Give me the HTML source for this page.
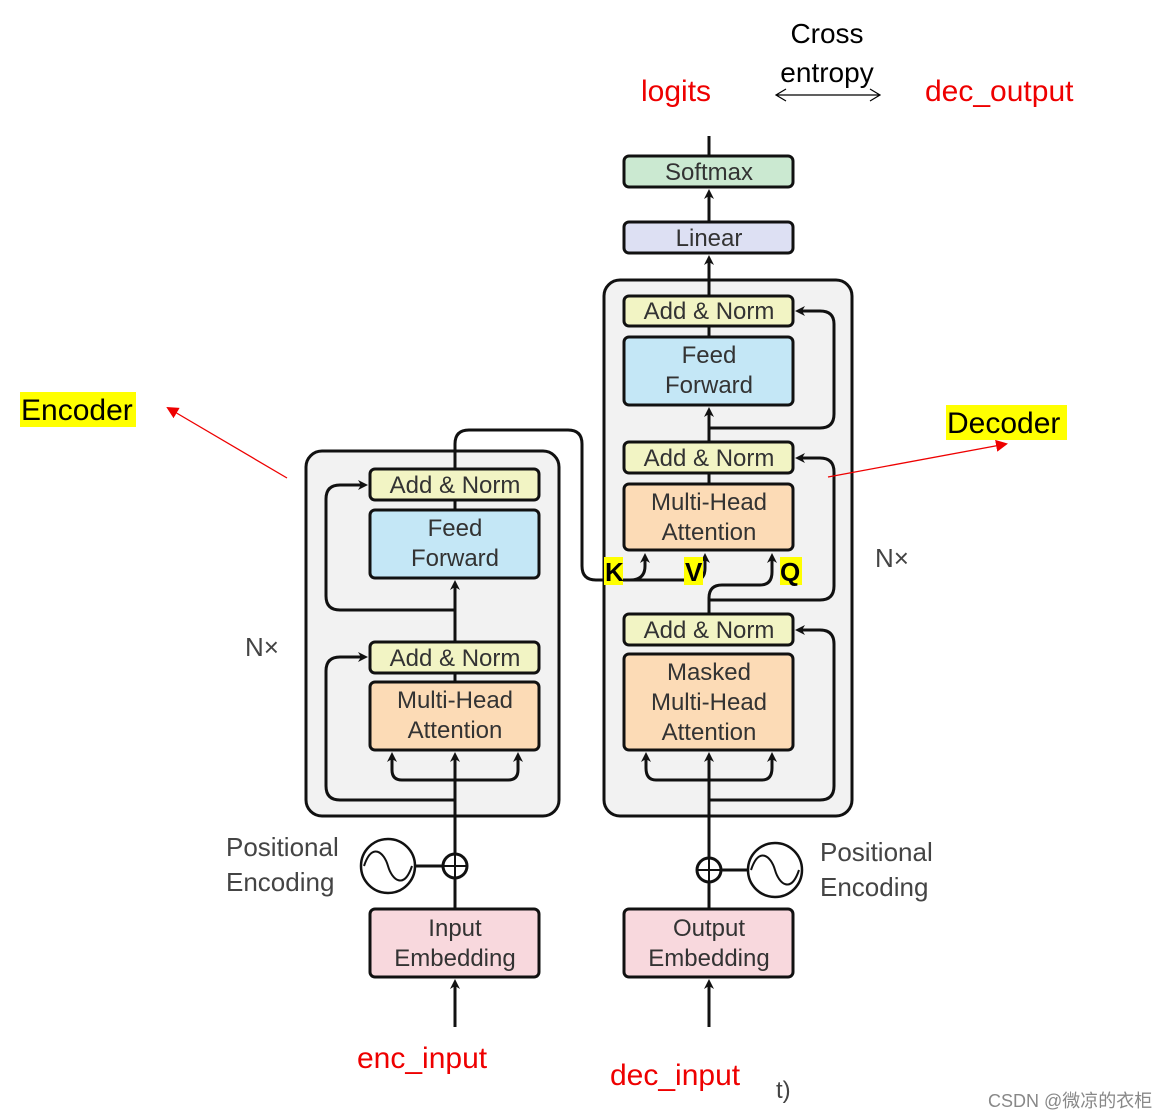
<!DOCTYPE html>
<html><head><meta charset="utf-8"><style>
html,body{margin:0;padding:0;background:#fff;}
svg{display:block;}
text{font-family:"Liberation Sans","Noto Sans CJK SC",sans-serif;}
</style></head><body>
<svg width="1174" height="1118" viewBox="0 0 1174 1118" xmlns="http://www.w3.org/2000/svg">
<defs>
<marker id="a" markerWidth="10" markerHeight="10" refX="7" refY="5" orient="auto" markerUnits="userSpaceOnUse">
<path d="M0,0 L10,5 L0,10 L3,5 Z" fill="#111"/></marker>
<marker id="r" markerWidth="12" markerHeight="12" refX="10" refY="6" orient="auto" markerUnits="userSpaceOnUse">
<path d="M0,0 L12,6 L0,12 Z" fill="#e00"/></marker>
</defs>
<!-- outer boxes -->
<rect x="306" y="451" width="253" height="365" rx="16" fill="#f2f2f2" stroke="#111" stroke-width="3"/>
<rect x="604" y="280" width="248" height="536" rx="16" fill="#f2f2f2" stroke="#111" stroke-width="3"/>

<g fill="none" stroke="#111" stroke-width="3">
<!-- encoder lines -->
<path d="M455,1027 L455,982" marker-end="url(#a)"/>
<path d="M455,909 L455,878"/>
<path d="M455,854 L455,755" marker-end="url(#a)"/>
<path d="M455,800 L340,800 Q326,800 326,786 L326,671 Q326,657 340,657 L365,657" marker-end="url(#a)"/>
<path d="M392,755 L392,770 Q392,780 402,780 L508,780 Q518,780 518,770 L518,755" />
<path d="M392,768 L392,755" marker-end="url(#a)"/>
<path d="M518,768 L518,755" marker-end="url(#a)"/>
<path d="M455,642 L455,583" marker-end="url(#a)"/>
<path d="M455,610 L340,610 Q326,610 326,596 L326,499 Q326,485 340,485 L365,485" marker-end="url(#a)"/>
<path d="M455,510 L455,500"/>
<path d="M455,673 L455,682"/>
<path d="M455,469 L455,444 Q455,430 469,430 L568,430 Q582,430 582,444 L582,566 Q582,580 596,580 L630,580 Q645,580 645,566 L645,556" marker-end="url(#a)"/>
<path d="M630,580 L695,580 Q705,580 705,568 L705,556" marker-end="url(#a)"/>
<!-- decoder lines -->
<path d="M709,1027 L709,982" marker-end="url(#a)"/>
<path d="M709,909 L709,882"/>
<path d="M709,858 L709,755" marker-end="url(#a)"/>
<path d="M709,800 L820,800 Q834,800 834,786 L834,644 Q834,630 820,630 L798,630" marker-end="url(#a)"/>
<path d="M646,768 Q646,780 656,780 L762,780 Q772,780 772,768 L772,755" marker-end="url(#a)"/>
<path d="M646,768 L646,755" marker-end="url(#a)"/>
<path d="M709,614 L709,598 Q709,585 722,585 L760,585 Q772,585 772,572 L772,556" marker-end="url(#a)"/>
<path d="M709,600 L820,600 Q834,600 834,586 L834,472 Q834,458 820,458 L798,458" marker-end="url(#a)"/>
<path d="M709,473 L709,484"/>
<path d="M709,442 L709,410" marker-end="url(#a)"/>
<path d="M709,428 L820,428 Q834,428 834,414 L834,324 Q834,311 820,311 L798,311" marker-end="url(#a)"/>
<path d="M709,326 L709,337"/>
<path d="M709,296 L709,258" marker-end="url(#a)"/>
<path d="M709,222 L709,192" marker-end="url(#a)"/>
<path d="M709,156 L709,136"/>
<!-- positional encodings -->
<circle cx="455" cy="866" r="12"/><path d="M443,866 H467 M455,854 V878" stroke-width="2"/>
<path d="M443,866 L414,866"/>
<circle cx="388" cy="866" r="27" stroke-width="2.5"/>
<path d="M364,866 C372,842 384,852 388,866 C392,880 404,890 412,866" stroke-width="2"/>
<circle cx="709" cy="870" r="12"/><path d="M697,870 H721 M709,858 V882" stroke-width="2"/>
<path d="M721,870 L749,870"/>
<circle cx="775" cy="870" r="27" stroke-width="2.5"/>
<path d="M751,870 C759,846 771,856 775,870 C779,884 791,894 799,870" stroke-width="2"/>
</g>

<g stroke="#111" stroke-width="3">
<rect x="370" y="469" width="169" height="31" rx="5" fill="#f2f4c4"/>
<rect x="370" y="510" width="169" height="68" rx="5" fill="#c4e7f6"/>
<rect x="370" y="642" width="169" height="31" rx="5" fill="#f2f4c4"/>
<rect x="370" y="682" width="169" height="68" rx="5" fill="#fcdbb6"/>
<rect x="370" y="909" width="169" height="68" rx="5" fill="#f8d8dd"/>
<rect x="624" y="156" width="169" height="31" rx="5" fill="#cbe9d1"/>
<rect x="624" y="222" width="169" height="31" rx="5" fill="#dde0f3"/>
<rect x="624" y="296" width="169" height="30" rx="5" fill="#f2f4c4"/>
<rect x="624" y="337" width="169" height="68" rx="5" fill="#c4e7f6"/>
<rect x="624" y="442" width="169" height="31" rx="5" fill="#f2f4c4"/>
<rect x="624" y="484" width="169" height="66" rx="5" fill="#fcdbb6"/>
<rect x="624" y="614" width="169" height="31" rx="5" fill="#f2f4c4"/>
<rect x="624" y="654" width="169" height="96" rx="5" fill="#fcdbb6"/>
<rect x="624" y="909" width="169" height="68" rx="5" fill="#f8d8dd"/>
</g>

<g font-size="24" fill="#333" text-anchor="middle">
<text x="455" y="493">Add &amp; Norm</text>
<text x="455" y="536">Feed</text><text x="455" y="566">Forward</text>
<text x="455" y="666">Add &amp; Norm</text>
<text x="455" y="708">Multi-Head</text><text x="455" y="738">Attention</text>
<text x="455" y="936">Input</text><text x="455" y="966">Embedding</text>
<text x="709" y="180">Softmax</text>
<text x="709" y="246">Linear</text>
<text x="709" y="319">Add &amp; Norm</text>
<text x="709" y="363">Feed</text><text x="709" y="393">Forward</text>
<text x="709" y="466">Add &amp; Norm</text>
<text x="709" y="510">Multi-Head</text><text x="709" y="540">Attention</text>
<text x="709" y="638">Add &amp; Norm</text>
<text x="709" y="680">Masked</text><text x="709" y="710">Multi-Head</text><text x="709" y="740">Attention</text>
<text x="709" y="936">Output</text><text x="709" y="966">Embedding</text>
</g>
<g font-size="26" fill="#444">
<text x="245" y="656">N×</text>
<text x="875" y="567">N×</text>
<text x="226" y="856">Positional</text><text x="226" y="891">Encoding</text>
<text x="820" y="861">Positional</text><text x="820" y="896">Encoding</text>
</g>
<!-- KVQ -->
<rect x="604" y="557" width="19" height="28" fill="#ff0"/>
<rect x="684" y="557" width="19" height="28" fill="#ff0"/>
<rect x="780" y="557" width="22" height="28" fill="#ff0"/>
<g font-size="26" font-weight="bold" fill="#000">
<text x="605" y="581">K</text><text x="685" y="581">V</text><text x="780" y="581">Q</text>
</g>
<!-- labels -->
<rect x="20" y="392" width="116" height="35" fill="#ff0"/>
<text x="21" y="420" font-size="30" fill="#000">Encoder</text>
<rect x="946" y="405" width="121" height="35" fill="#ff0"/>
<text x="947" y="433" font-size="30" fill="#000">Decoder</text>
<line x1="287" y1="478" x2="168" y2="408" stroke="#e00" stroke-width="1.3" marker-end="url(#r)"/>
<line x1="828" y1="477" x2="1006" y2="444" stroke="#e00" stroke-width="1.3" marker-end="url(#r)"/>
<g font-size="30" fill="#e00">
<text x="641" y="101">logits</text>
<text x="925" y="101">dec_output</text>
<text x="357" y="1068">enc_input</text>
<text x="610" y="1085">dec_input</text>
</g>
<g font-size="28" fill="#000" text-anchor="middle">
<text x="827" y="43">Cross</text><text x="827" y="82">entropy</text>
</g>
<g stroke="#000" stroke-width="1.2" fill="none">
<path d="M776,95 H880 M786,89 L776,95 L786,101 M870,89 L880,95 L870,101"/>
</g>
<text x="776" y="1098" font-size="24" fill="#444">t)</text>
<text x="988" y="1107" font-size="18" fill="#888">CSDN @微凉的衣柜</text>
</svg>
</body></html>
